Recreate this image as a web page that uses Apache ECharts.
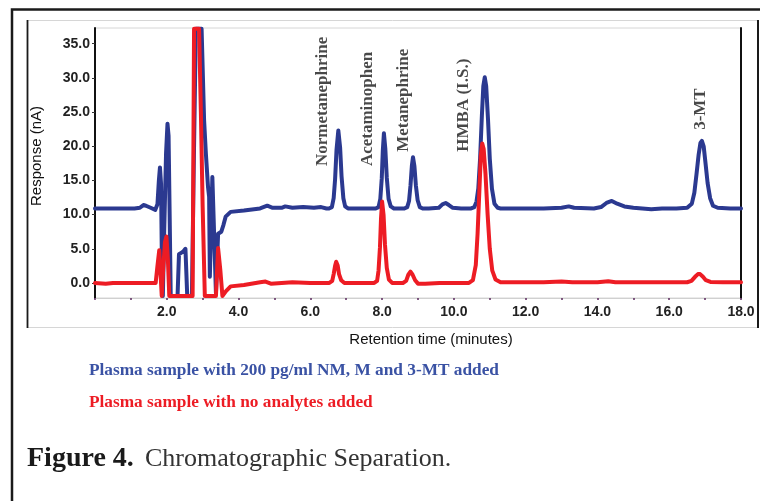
<!DOCTYPE html>
<html>
<head>
<meta charset="utf-8">
<script src="https://cdn.jsdelivr.net/npm/echarts@6/dist/echarts.min.js"></script>
<style>
  html, body {margin: 0; padding: 0; background: #fff;}
  #chart {width: 760px; height: 501px;}
</style>
</head>
<body>
<div id="chart"></div>
<script>
// retention time (min), response (nA)
const spikedTrace = [
  [0.0, 10.9], [0.6, 10.9], [1.1, 10.9], [1.25, 11.0], [1.35, 11.4], [1.42, 11.3], [1.55, 11.0],
  [1.68, 10.7], [1.74, 11.5], [1.78, 15.0], [1.81, 16.9], [1.84, 14.5], [1.86, 5.0], [1.89, -1.9],
  [1.93, 8.0], [1.98, 19.0], [2.02, 23.3], [2.05, 21.5], [2.08, 10.0], [2.11, -1.9], [2.30, -1.9],
  [2.34, 4.2], [2.40, 4.4], [2.46, 4.6], [2.52, 5.0], [2.57, -1.9], [2.70, -1.9], [2.76, 20.0],
  [2.81, 37.2], [2.97, 37.2], [3.04, 23.8], [3.09, 18.9], [3.15, 14.0], [3.18, 12.6], [3.20, 0.9],
  [3.27, 15.5], [3.37, -1.5], [3.43, 7.2], [3.52, 7.5], [3.58, 8.5], [3.64, 9.7], [3.78, 10.4],
  [4.15, 10.6], [4.6, 10.9], [4.8, 11.3], [4.95, 11.0], [5.2, 11.0], [5.3, 11.2], [5.5, 11.0],
  [5.8, 11.1], [6.1, 11.0], [6.3, 11.1], [6.45, 10.9],
  // Normetanephrine
  [6.52, 10.9], [6.60, 11.1], [6.65, 12.4], [6.69, 15.2], [6.73, 19.5], [6.78, 22.3], [6.83, 19.8],
  [6.87, 15.6], [6.92, 12.4], [6.97, 11.2], [7.05, 10.9],
  // Acetaminophen
  [7.82, 10.9], [7.90, 11.1], [7.95, 12.3], [7.99, 15.3], [8.02, 19.4], [8.05, 21.9], [8.09, 19.6],
  [8.13, 15.4], [8.18, 12.3], [8.24, 11.2], [8.33, 10.9],
  // Metanephrine
  [8.62, 10.9], [8.70, 11.1], [8.75, 12.0], [8.79, 14.2], [8.83, 17.2], [8.86, 18.4], [8.90, 17.1],
  [8.94, 14.3], [8.99, 12.1], [9.05, 11.1], [9.13, 10.9],
  [9.30, 10.9], [9.58, 11.0], [9.68, 11.5], [9.77, 11.7], [9.86, 11.4], [9.97, 11.0], [10.2, 10.9],
  // HMBA (I.S.)
  [10.48, 10.9], [10.57, 11.1], [10.63, 11.9], [10.68, 13.8], [10.73, 18.2], [10.78, 24.5],
  [10.82, 28.8], [10.86, 30.1], [10.90, 28.8], [10.95, 24.0], [11.00, 18.2], [11.06, 13.8],
  [11.13, 11.6], [11.22, 11.0], [11.30, 10.9],
  [11.6, 10.9], [12.0, 10.9], [12.5, 10.9], [13.0, 11.0], [13.2, 11.2], [13.35, 11.0], [13.9, 10.9],
  [14.1, 11.1], [14.25, 11.7], [14.4, 12.0], [14.55, 11.6], [14.75, 11.2], [15.0, 11.0], [15.5, 10.8],
  [15.8, 10.9], [16.2, 10.9], [16.5, 11.0],
  // 3-MT
  [16.55, 11.1], [16.63, 11.6], [16.70, 13.2], [16.76, 15.9], [16.82, 18.8], [16.87, 20.5],
  [16.91, 20.8], [16.96, 20.0], [17.01, 17.6], [17.07, 14.6], [17.14, 12.4], [17.22, 11.3],
  [17.35, 11.0], [17.7, 10.9], [18.0, 10.9]
]

const blankTrace = [
  [0.0, 0.0], [0.3, -0.1], [0.5, 0.0], [1.0, 0.0], [1.5, 0.0], [1.69, 0.0], [1.74, 2.5], [1.79, 4.8],
  [1.83, 1.0], [1.86, -1.9], [1.90, 2.0], [1.95, 6.0], [1.99, 6.8], [2.03, 3.5], [2.07, -1.9],
  [2.72, -1.9], [2.76, 37.2], [2.90, 37.2], [2.95, 25.0], [3.00, 11.1], [3.06, -1.9], [3.37, -1.9],
  [3.43, 5.1], [3.49, 2.0], [3.55, -1.9], [3.65, -1.2], [3.78, -0.5], [4.15, -0.3], [4.6, 0.1],
  [4.75, 0.2], [4.9, -0.1], [5.2, 0.0], [5.5, 0.1], [6.0, 0.0], [6.45, 0.0],
  [6.53, 0.0], [6.61, 0.3], [6.65, 1.3], [6.69, 2.5], [6.72, 3.1], [6.76, 2.6], [6.80, 1.3],
  [6.86, 0.4], [6.95, 0.0],
  [7.78, 0.0], [7.86, 0.3], [7.90, 1.8], [7.94, 5.2], [7.97, 9.5], [8.00, 11.9], [8.04, 10.0],
  [8.08, 5.6], [8.13, 2.2], [8.19, 0.5], [8.28, 0.0],
  [8.58, 0.0], [8.67, 0.3], [8.73, 1.2], [8.79, 1.65], [8.85, 1.2], [8.92, 0.4], [9.00, -0.1],
  [9.2, -0.1], [9.6, 0.0],
  [10.42, 0.0], [10.53, 0.4], [10.61, 2.6], [10.66, 7.2], [10.71, 13.5], [10.75, 18.6],
  [10.79, 20.4], [10.83, 19.6], [10.88, 16.0], [10.94, 10.0], [11.00, 5.0], [11.07, 1.8],
  [11.16, 0.5], [11.3, 0.1],
  [11.8, 0.1], [12.5, 0.1], [13.0, 0.2], [13.3, 0.1], [14.0, 0.1], [14.3, 0.25], [14.5, 0.1],
  [15.5, 0.1], [16.4, 0.1],
  [16.50, 0.1], [16.62, 0.3], [16.72, 0.9], [16.80, 1.3], [16.86, 1.3], [16.94, 0.9], [17.02, 0.4],
  [17.15, 0.15], [17.5, 0.1], [18.0, 0.1]
]

// peak names and where their labels start (time, response)
const peakNames = ['Normetanephrine', 'Acetaminophen', 'Metanephrine', 'HMBA (I.S.)', '3-MT']
const peakAnchors = [[6.34, 17.1], [7.59, 17.1], [8.61, 19.2], [10.28, 19.2], [16.88, 22.4]]

const xTicks = [2, 4, 6, 8, 10, 12, 14, 16, 18]
const yTicks = [0, 5, 10, 15, 20, 25, 30, 35]

const seriesNames = [
  'Plasma sample with 200 pg/ml NM, M and 3-MT added',
  'Plasma sample with no analytes added'
]

const chart = echarts.init(document.getElementById('chart'), null, {renderer: 'canvas'})

const sans = '"Liberation Sans", Arial, sans-serif'
const serif = '"Liberation Serif", "Times New Roman", serif'

chart.setOption({
  backgroundColor: '#fff',
  animation: false,
  grid: {
    left: 95,
    right: 19,
    top: 28,
    bottom: 203,
    show: true,
    borderColor: '#d6d6d6',
    borderWidth: 1
  },
  xAxis: {
    type: 'value',
    min: 0,
    max: 18,
    interval: 1,
    axisLine: {show: true, onZero: false, lineStyle: {color: '#d0d0d0', width: 1}},
    axisTick: {show: true, length: 2, lineStyle: {color: '#5b2a5e', width: 1.5}},
    splitLine: {show: false},
    axisLabel: {
      customValues: xTicks,
      formatter: v => v.toFixed(1),
      margin: 7,
      color: '#222',
      fontFamily: sans,
      fontWeight: 'bold',
      fontSize: 14
    }
  },
  yAxis: [
    {
      type: 'value',
      min: -2.2,
      max: 37.3,
      axisLine: {show: true, onZero: false, lineStyle: {color: '#111', width: 2}},
      axisTick: {show: true, customValues: yTicks, length: 3, lineStyle: {color: '#333'}},
      splitLine: {show: false},
      axisLabel: {
        customValues: yTicks,
        formatter: v => v.toFixed(1),
        margin: 5,
        color: '#222',
        fontFamily: sans,
        fontWeight: 'bold',
        fontSize: 14
      }
    },
    {
      type: 'value',
      position: 'right',
      min: -2.2,
      max: 37.3,
      axisLine: {show: true, onZero: false, lineStyle: {color: '#111', width: 2}},
      axisTick: {show: false},
      axisLabel: {show: false},
      splitLine: {show: false}
    }
  ],
  series: [
    {
      name: seriesNames[0],
      type: 'line',
      data: spikedTrace,
      showSymbol: false,
      symbol: 'none',
      lineStyle: {color: '#2b3990', width: 4, join: 'round', cap: 'round'},
      z: 2
    },
    {
      name: seriesNames[1],
      type: 'line',
      data: blankTrace,
      showSymbol: false,
      symbol: 'none',
      lineStyle: {color: '#ed1c24', width: 4, join: 'round', cap: 'round'},
      z: 3
    },
    {
      type: 'scatter',
      silent: true,
      symbolSize: 0,
      data: peakAnchors.map((p, i) => ({value: p, name: peakNames[i]})),
      label: {
        show: true,
        position: 'inside',
        rotate: 90,
        align: 'left',
        verticalAlign: 'middle',
        formatter: p => p.name,
        color: '#1a1a1a',
        fontFamily: serif,
        fontWeight: 'bold',
        fontSize: 17
      },
      z: 4
    }
  ],
  graphic: [
    // outer frame
    {type: 'rect', shape: {x: 12, y: 9.5, width: 800, height: 600},
      style: {fill: 'none', stroke: '#1a1a1a', lineWidth: 2.5}, silent: true},
    // inner panel
    {type: 'line', shape: {x1: 27, y1: 20.5, x2: 758, y2: 20.5}, style: {stroke: '#d6d6d6', lineWidth: 1}},
    {type: 'line', shape: {x1: 27, y1: 327.5, x2: 758, y2: 327.5}, style: {stroke: '#d6d6d6', lineWidth: 1}},
    {type: 'line', shape: {x1: 27.5, y1: 20, x2: 27.5, y2: 328}, style: {stroke: '#1a1a1a', lineWidth: 1.8}},
    {type: 'line', shape: {x1: 758, y1: 20, x2: 758, y2: 328}, style: {stroke: '#1a1a1a', lineWidth: 2}},
    // axis titles
    {type: 'text', x: 37, y: 156, rotation: Math.PI / 2,
      style: {text: 'Response (nA)', font: '15px ' + sans, fill: '#111', align: 'center', verticalAlign: 'middle'}},
    {type: 'text', x: 431, y: 340,
      style: {text: 'Retention time (minutes)', font: '15px ' + sans, fill: '#111', align: 'center', verticalAlign: 'middle'}},
    // series captions
    {type: 'text', x: 89, y: 371,
      style: {text: seriesNames[0], font: 'bold 17.3px ' + serif, fill: '#3a52a4', align: 'left', verticalAlign: 'middle'}},
    {type: 'text', x: 89, y: 403,
      style: {text: seriesNames[1], font: 'bold 17.3px ' + serif, fill: '#ed1c24', align: 'left', verticalAlign: 'middle'}},
    // figure caption
    {type: 'text', x: 27, y: 459,
      style: {text: 'Figure 4.', font: 'bold 28px ' + serif, fill: '#1a1a1a', align: 'left', verticalAlign: 'middle'}},
    {type: 'text', x: 145, y: 459,
      style: {text: 'Chromatographic Separation.', font: '26px ' + serif, fill: '#333', align: 'left', verticalAlign: 'middle'}}
  ]
})
</script>
</body>
</html>
